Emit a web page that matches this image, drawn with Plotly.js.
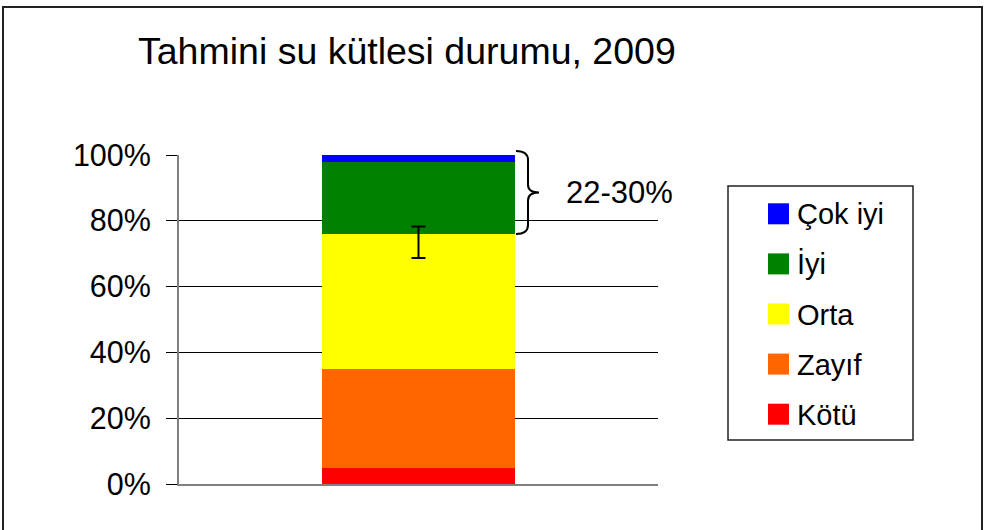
<!DOCTYPE html>
<html>
<head>
<meta charset="utf-8">
<script src="https://cdn.plot.ly/plotly-3.0.1.min.js"></script>
<style>html,body{margin:0;padding:0;background:#fff;}#chart{width:986px;height:530px;}</style>
</head>
<body>
<div id="chart"></div>
<script>
// ---- data ----
const barCategory = ['2009'];
const categories = ['Kötü', 'Zayıf', 'Orta', 'İyi', 'Çok iyi'];
const values = [5, 30, 41, 22, 2];
const colors = ['#FF0000', '#FF6600', '#FFFF00', '#008000', '#0000FF'];
const errCenter = [73.5];
const errHalf = [4.8];
const braceLabel = '22-30%';
const titleText = 'Tahmini su kütlesi durumu, 2009';
const yTickVals = [0, 20, 40, 60, 80, 100];

// ---- geometry helpers (layout only) ----
const W = 986, H = 530;
const PL = 179, PR = 658, PT = 155, PB = 484;
const px2x = p => (p - PL) / (PR - PL);
const py2y = p => (PB - p) / (PB - PT);
const FONT = '"Liberation Sans", Arial, sans-serif';

const traces = categories.map((c, i) => ({
  type: 'bar',
  x: barCategory,
  y: [values[i]],
  name: c,
  marker: {color: colors[i], line: {width: 0}},
  width: 0.403,
  showlegend: false,
  hoverinfo: 'skip'
}));

traces.push({
  type: 'scatter',
  mode: 'markers',
  x: barCategory,
  y: errCenter,
  marker: {size: 1, color: 'rgba(0,0,0,0)'},
  error_y: {type: 'data', array: errHalf, visible: true, color: '#000', thickness: 2, width: 7},
  showlegend: false,
  hoverinfo: 'skip'
});

// cumulative values for brace
const total = values.reduce((a, b) => a + b, 0);
const lowerSum = values.slice(0, 3).reduce((a, b) => a + b, 0);
const yt = total / 100 + 4 / (PB - PT);   // a little above top
const yb = lowerSum / 100;
const ym = (yt + yb) / 2;
const dy = 9 / (PB - PT), dy2 = 8 / (PB - PT);
const bx0 = px2x(516), bx1 = px2x(528), bx2 = px2x(539);
const bracePath =
  `M ${bx0},${yt} Q ${bx1},${yt} ${bx1},${yt - dy} ` +
  `L ${bx1},${ym + dy2} Q ${bx1},${ym} ${bx2},${ym} ` +
  `Q ${bx1},${ym} ${bx1},${ym - dy2} ` +
  `L ${bx1},${yb + dy} Q ${bx1},${yb} ${bx0},${yb}`;

const shapes = [
  // outer frame
  {type: 'rect', xref: 'paper', yref: 'paper', x0: px2x(3), x1: px2x(982), y0: py2y(535), y1: py2y(7),
   line: {color: '#222', width: 2}, fillcolor: 'rgba(0,0,0,0)'},
  // brace
  {type: 'path', xref: 'paper', yref: 'paper', path: bracePath, line: {color: '#000', width: 2}},
  // legend box
  {type: 'rect', xref: 'paper', yref: 'paper', x0: px2x(728), x1: px2x(913), y0: py2y(440), y1: py2y(186),
   line: {color: '#222', width: 1.5}, fillcolor: '#fff'}
];

const annotations = [
  {xref: 'paper', yref: 'paper', x: px2x(564), y: ym, xanchor: 'left', yanchor: 'middle',
   text: braceLabel, showarrow: false, font: {family: FONT, size: 31, color: '#000'}}
];

// manual legend (top to bottom: reverse order)
const rowTop = 213.8, rowGap = 50.1;
for (let k = 0; k < categories.length; k++) {
  const i = categories.length - 1 - k;
  const cy = rowTop + k * rowGap;
  shapes.push({type: 'rect', xref: 'paper', yref: 'paper',
    x0: px2x(768), x1: px2x(789), y0: py2y(cy + 10.5), y1: py2y(cy - 10.5),
    line: {width: 0}, fillcolor: colors[i]});
  annotations.push({xref: 'paper', yref: 'paper', x: px2x(795), y: py2y(cy + 0.5), xanchor: 'left', yanchor: 'middle',
    text: categories[i], showarrow: false, font: {family: FONT, size: 29, color: '#000'}});
}

const layout = {
  width: W, height: H,
  margin: {l: PL, r: W - PR, t: PT, b: H - PB, pad: 0},
  paper_bgcolor: '#fff', plot_bgcolor: '#fff',
  barmode: 'stack',
  showlegend: false,
  title: {text: titleText, xref: 'container', yref: 'container', x: 138 / W, xanchor: 'left',
          y: 1 - 51 / H, yanchor: 'middle', font: {family: FONT, size: 37.5, color: '#000'}},
  xaxis: {type: 'category', range: [-0.5, 0.5], showticklabels: false, showgrid: false, zeroline: false,
          showline: true, linecolor: '#808080', linewidth: 2, ticks: ''},
  yaxis: {range: [0, 100], tickvals: yTickVals, ticktext: yTickVals.map(v => v + '%'),
          showgrid: true, gridcolor: '#000', gridwidth: 1, zeroline: false,
          showline: true, linecolor: '#808080', linewidth: 2,
          ticks: 'outside', ticklen: 11, tickcolor: '#000', tickwidth: 1,
          ticklabelstandoff: 9,
          tickfont: {family: FONT, size: 30.5, color: '#000'}},
  shapes: shapes,
  annotations: annotations
};

Plotly.newPlot('chart', traces, layout, {staticPlot: true, displayModeBar: false});
</script>
</body>
</html>
